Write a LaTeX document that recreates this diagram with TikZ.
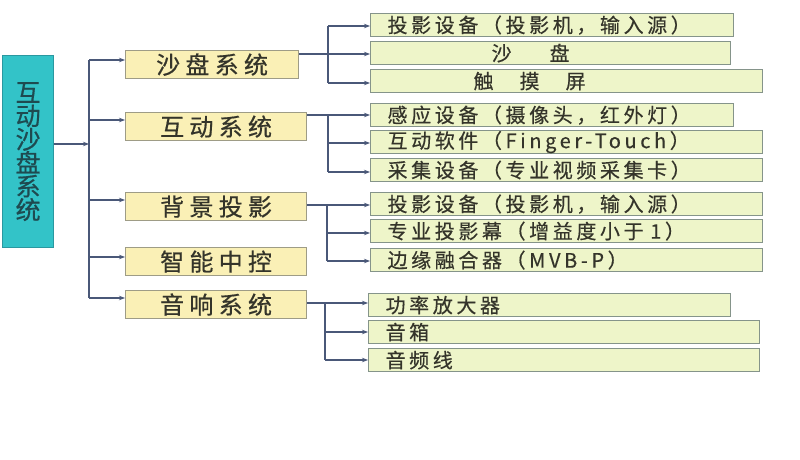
\documentclass[tikz,border=0pt]{standalone}
\usepackage{fontspec}
\setmainfont{Noto Sans CJK SC}
\newfontfamily\cjkroot[FakeBold=0.6]{Noto Sans CJK SC}
\newfontfamily\cjkone[LetterSpace=22,FakeBold=0.6]{Noto Sans CJK SC}
\newfontfamily\cjktwo[LetterSpace=18,FakeBold=0.4]{Noto Sans CJK SC}
\usetikzlibrary{arrows.meta}
\definecolor{rootfill}{HTML}{33C3C8}
\definecolor{rootdraw}{HTML}{2A98A0}
\definecolor{roottext}{HTML}{1E4A50}
\definecolor{onefill}{HTML}{FAF0B6}
\definecolor{onedraw}{HTML}{9E9C86}
\definecolor{twofill}{HTML}{EEF5C9}
\definecolor{twodraw}{HTML}{85948A}
\definecolor{txt}{HTML}{34342A}
\definecolor{conn}{HTML}{4A5878}
\begin{document}
\begin{tikzpicture}[x=1pt,y=-1pt,
  rootbox/.style={draw=rootdraw,fill=rootfill,line width=1.2pt,anchor=north west,
    minimum width=51pt,minimum height=192pt,inner sep=0pt,align=center,
    text=roottext,font=\cjkroot\fontsize{25}{23.5}\selectfont},
  onebox/.style={draw=onedraw,fill=onefill,line width=1.2pt,anchor=north west,
    minimum height=28pt,inner sep=0pt,text=txt,font=\cjkone\fontsize{24}{26}\selectfont},
  twobox/.style={draw=twodraw,fill=twofill,line width=1.2pt,anchor=north west,
    minimum height=23pt,inner ysep=0pt,inner xsep=17pt,align=left,text=txt,
    font=\cjktwo\fontsize{20}{21}\selectfont},
  link/.style={draw=conn,line width=1.1pt},
  arrow/.style={link,-{Stealth[length=6pt,width=4.5pt]}}]
\useasboundingbox[fill=white] (0,0) rectangle (800,460);

% root
\node[rootbox] (root) at (2,55) {互\\动\\沙\\盘\\系\\统};

% level 1
\node[onebox,minimum width=173pt] (s1) at (125,50) {沙盘系统};
\node[onebox,minimum width=181pt] (s2) at (125,112) {互动系统};
\node[onebox,minimum width=181pt] (s3) at (125,192) {背景投影};
\node[onebox,minimum width=181pt] (s4) at (125,247) {智能中控};
\node[onebox,minimum width=181pt] (s5) at (125,290) {音响系统};

% level 2
\node[twobox,text width=329pt] (a1) at (370,13) {投影设备（投影机，输入源）};
\node[twobox,text width=326pt] (a2) at (370,41) {\hspace*{104pt}沙\hspace{38pt}盘};
\node[twobox,text width=358pt] (a3) at (370,69) {\hspace*{86pt}触\hspace{26pt}摸\hspace{26pt}屏};
\node[twobox,text width=329pt] (b1) at (370,103) {感应设备（摄像头，红外灯）};
\node[twobox,text width=358pt] (b2) at (370,130) {互动软件（Finger-Touch）};
\node[twobox,text width=358pt] (b3) at (370,158) {采集设备（专业视频采集卡）};
\node[twobox,text width=358pt] (c1) at (370,192) {投影设备（投影机，输入源）};
\node[twobox,text width=358pt] (c2) at (370,219) {专业投影幕（增益度小于 1）};
\node[twobox,text width=358pt] (c3) at (370,248) {边缘融合器（MVB-P）};
\node[twobox,text width=328pt] (d1) at (368,293) {功率放大器};
\node[twobox,text width=357pt] (d2) at (368,320) {音箱};
\node[twobox,text width=357pt] (d3) at (368,348) {音频线};

% root connector and trunk
\coordinate (rt) at (89,144);
\draw[arrow] (root.east |- rt) -- (rt);
\draw[link] (89,60) -- (89,298);
\draw[arrow] (89,60) -- (s1.west |- 0,60);
\draw[arrow] (89,120) -- (s2.west |- 0,120);
\draw[arrow] (89,200) -- (s3.west |- 0,200);
\draw[arrow] (89,257) -- (s4.west |- 0,257);
\draw[arrow] (89,298) -- (s5.west |- 0,298);

% group 1
\coordinate (t1) at (328,54);
\draw[link] (s1.east |- t1) -- (t1);
\draw[link] (328,26) -- (328,83);
\draw[arrow] (328,26) -- (a1.west |- 0,26);
\draw[arrow] (328,54) -- (a2.west |- 0,54);
\draw[arrow] (328,83) -- (a3.west |- 0,83);

% group 2
\coordinate (t2) at (328,115);
\draw[link] (s2.east |- t2) -- (t2);
\draw[link] (328,115) -- (328,172);
\draw[arrow] (328,115) -- (b1.west |- 0,115);
\draw[arrow] (328,143) -- (b2.west |- 0,143);
\draw[arrow] (328,172) -- (b3.west |- 0,172);

% group 3
\coordinate (t3) at (327,205);
\draw[link] (s3.east |- t3) -- (t3);
\draw[link] (327,205) -- (327,261);
\draw[arrow] (327,205) -- (c1.west |- 0,205);
\draw[arrow] (327,233) -- (c2.west |- 0,233);
\draw[arrow] (327,261) -- (c3.west |- 0,261);

% group 4
\coordinate (t5) at (325,303);
\draw[link] (s5.east |- t5) -- (t5);
\draw[link] (325,303) -- (325,360);
\draw[arrow] (325,303) -- (d1.west |- 0,303);
\draw[arrow] (325,332) -- (d2.west |- 0,332);
\draw[arrow] (325,360) -- (d3.west |- 0,360);
\end{tikzpicture}
\end{document}
